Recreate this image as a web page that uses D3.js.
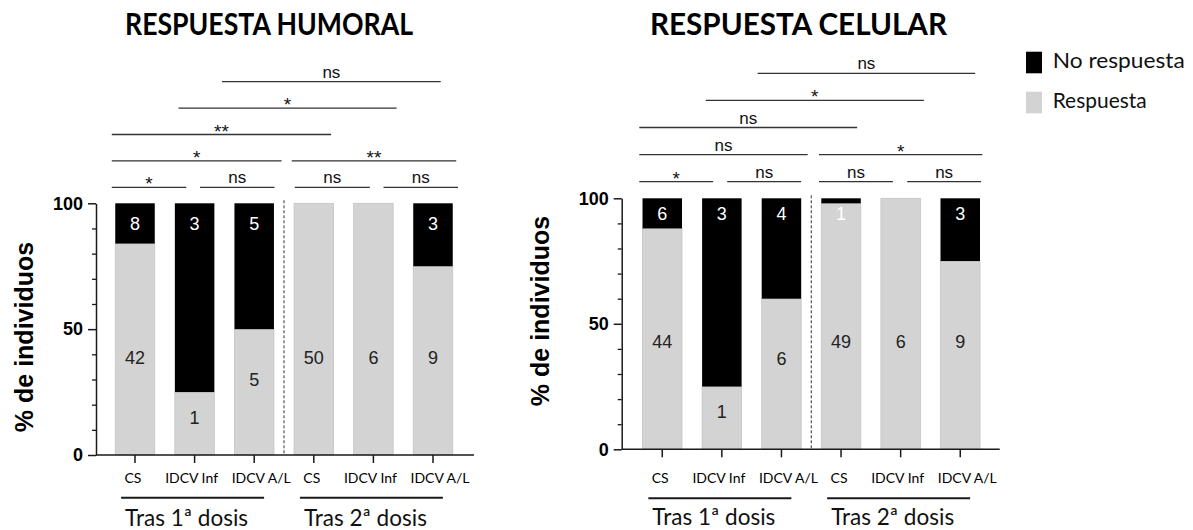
<!DOCTYPE html>
<html>
<head>
<meta charset="utf-8">
<script src="https://cdn.jsdelivr.net/npm/d3@7"></script>
<style>
  html, body { margin: 0; padding: 0; background: #fff; }
  svg { display: block; }
</style>
</head>
<body>
<svg id="chart" width="1193" height="530"></svg>
<script>
// ---- data ----
const categories = ["CS", "IDCV Inf", "IDCV A/L", "CS", "IDCV Inf", "IDCV A/L"];
const doseGroups = ["Tras 1ª dosis", "Tras 2ª dosis"];
const seriesNames = ["No respuesta", "Respuesta"];

// counts of individuals per group
const humoralRespuesta   = [42, 1, 5, 50, 6, 9];
const humoralNoRespuesta = [8, 3, 5, 0, 0, 3];
const celularRespuesta   = [44, 1, 6, 49, 6, 9];
const celularNoRespuesta = [6, 3, 4, 1, 0, 3];

const yTicks = [0, 50, 100];
const yMinorTicks = [10, 20, 30, 40, 60, 70, 80, 90];

// pairwise comparisons: [group a, group b, significance, bracket level]
const humoralComparisons = [
  [0, 1, "*", 0], [1, 2, "ns", 0], [3, 4, "ns", 0], [4, 5, "ns", 0],
  [0, 2, "*", 1], [3, 5, "**", 1],
  [0, 3, "**", 2],
  [1, 4, "*", 3],
  [2, 5, "ns", 4]
];
const celularComparisons = [
  [0, 1, "*", 0], [1, 2, "ns", 0], [3, 4, "ns", 0], [4, 5, "ns", 0],
  [0, 2, "ns", 1], [3, 5, "*", 1],
  [0, 3, "ns", 2],
  [1, 4, "*", 3],
  [2, 5, "ns", 4]
];

// ---- layout ----
const ARIAL = "'Liberation Sans', Arial, sans-serif";
const HUMANIST = "Lato, 'Open Sans', sans-serif";
const GREY = "#d3d3d3";
const INK = "#1a1a1a";

// horizontal extent of each comparison line, in category-index units
const humoralSpans = [
  [-0.39, 0.86], [1.09, 2.34], [2.68, 3.94], [4.17, 5.42],
  [-0.39, 2.46], [2.63, 5.39],
  [-0.39, 3.29],
  [0.73, 4.39],
  [1.46, 5.13]
];
const celularSpans = [
  [-0.385, 0.854], [1.09, 2.33], [2.63, 3.87], [4.11, 5.35],
  [-0.385, 2.44], [2.63, 5.37],
  [-0.385, 3.27],
  [0.73, 4.39],
  [1.6, 5.25]
];

// horizontal nudge of the category captions within each dose group
const captionNudge = [-2, -3, 7];

const panels = [
  {
    title: "RESPUESTA HUMORAL", titleX: 125, titleW: 288, titleY: 35,
    resp: humoralRespuesta, noResp: humoralNoRespuesta,
    comps: humoralComparisons, spans: humoralSpans,
    axisX: 96, y0: 455, y100: 203.3, xLen: 378, inset: 19.25,
    levelBase: 16, levelStep: 26.4,
    greyLabelPct: 38.5, blackLabelDy: 20,
    yLabelX: 24, yLabelY: 337,
    groupLineY: 497.7, groupTextY: 526
  },
  {
    title: "RESPUESTA CELULAR", titleX: 650, titleW: 297, titleY: 35,
    resp: celularRespuesta, noResp: celularNoRespuesta,
    comps: celularComparisons, spans: celularSpans,
    axisX: 621.7, y0: 449.3, y100: 198.3, xLen: 378, inset: 20.8,
    levelBase: 16.6, levelStep: 27.1,
    greyLabelPct: 42.9, blackLabelDy: 15.5,
    yLabelX: 540, yLabelY: 311,
    groupLineY: 498.3, groupTextY: 524.5
  }
];

const svg = d3.select("#chart");

function drawPanel(p) {
  const g = svg.append("g");

  const y = d3.scaleLinear().domain([0, 100]).range([p.y0, p.y100]);
  const x = d3.scaleBand()
    .domain(d3.range(categories.length))
    .range([p.axisX + p.inset, p.axisX + p.inset + 337.5])
    .paddingInner(0.337)
    .paddingOuter(0);
  const bw = x.bandwidth();
  const cx = i => x(i) + bw / 2;
  const u = d3.scaleLinear().domain([0, categories.length - 1]).range([cx(0), cx(categories.length - 1)]);

  const rows = categories.map((c, i) => {
    const total = p.resp[i] + p.noResp[i];
    return { i, c, resp: p.resp[i], no: p.noResp[i], pct: p.resp[i] / total * 100 };
  });

  // title
  g.append("text")
    .attr("x", p.titleX).attr("y", p.titleY)
    .attr("textLength", p.titleW).attr("lengthAdjust", "spacingAndGlyphs")
    .style("font-family", HUMANIST).style("font-weight", 700).style("font-size", "30px")
    .style("fill", "#000")
    .text(p.title);

  // stacked bars: Respuesta (grey) at the bottom, No respuesta (black) on top
  g.selectAll("rect.resp").data(rows).enter().append("rect")
    .attr("class", "resp")
    .attr("x", d => x(d.i)).attr("width", bw)
    .attr("y", d => y(d.pct)).attr("height", d => y(0) - y(d.pct))
    .attr("fill", GREY).attr("stroke", "#c4c4c4").attr("stroke-width", 0.8);

  g.selectAll("rect.noresp").data(rows.filter(d => d.no > 0)).enter().append("rect")
    .attr("class", "noresp")
    .attr("x", d => x(d.i)).attr("width", bw)
    .attr("y", y(100)).attr("height", d => y(d.pct) - y(100))
    .attr("fill", "#000");

  // count labels
  g.selectAll("text.respLab").data(rows).enter().append("text")
    .attr("x", d => cx(d.i))
    .attr("y", d => y(Math.min(p.greyLabelPct, d.pct * 0.6)))
    .attr("dy", "0.35em").attr("text-anchor", "middle")
    .style("font-family", ARIAL).style("font-size", "18px").style("fill", "#222")
    .text(d => d.resp);

  g.selectAll("text.noLab").data(rows.filter(d => d.no > 0)).enter().append("text")
    .attr("x", d => cx(d.i))
    .attr("y", y(100) + p.blackLabelDy)
    .attr("dy", "0.35em").attr("text-anchor", "middle")
    .style("font-family", ARIAL).style("font-size", "18px").style("fill", "#fff")
    .text(d => d.no);

  // dashed separator between the two doses
  const sepX = (cx(2) + cx(3)) / 2;
  g.append("line")
    .attr("x1", sepX).attr("x2", sepX)
    .attr("y1", y(100) - 3).attr("y2", y(0))
    .attr("stroke", "#333").attr("stroke-width", 1).attr("stroke-dasharray", "3,2");

  // y axis
  const yAxis = g.append("g").attr("transform", `translate(${p.axisX},0)`)
    .call(d3.axisLeft(y).tickValues(yTicks).tickSize(8).tickSizeOuter(0).tickPadding(5));
  yAxis.select(".domain").attr("stroke", INK).attr("stroke-width", 1.5);
  yAxis.selectAll(".tick line").attr("stroke", INK).attr("stroke-width", 1.5);
  yAxis.selectAll(".tick text")
    .style("font-family", ARIAL).style("font-weight", 700).style("font-size", "18px").style("fill", "#000");

  const yMinor = g.append("g").attr("transform", `translate(${p.axisX},0)`)
    .call(d3.axisLeft(y).tickValues(yMinorTicks).tickSize(4).tickFormat(""));
  yMinor.select(".domain").remove();
  yMinor.selectAll(".tick line").attr("stroke", INK).attr("stroke-width", 1.3);

  g.append("text")
    .attr("transform", `translate(${p.yLabelX},${p.yLabelY}) rotate(-90)`)
    .attr("text-anchor", "middle").attr("dy", "0.35em")
    .style("font-family", ARIAL).style("font-weight", 700).style("font-size", "25px").style("fill", "#000")
    .text("% de individuos");

  // x axis
  g.append("line")
    .attr("x1", p.axisX).attr("x2", p.axisX + p.xLen)
    .attr("y1", p.y0).attr("y2", p.y0)
    .attr("stroke", INK).attr("stroke-width", 1.5);
  const xAxis = g.append("g").attr("transform", `translate(0,${p.y0})`)
    .call(d3.axisBottom(x).tickSize(8).tickSizeOuter(0).tickFormat(""));
  xAxis.select(".domain").remove();
  xAxis.selectAll(".tick line").attr("stroke", INK).attr("stroke-width", 1.5);

  g.selectAll("text.cat").data(rows).enter().append("text")
    .attr("x", d => cx(d.i) + captionNudge[d.i % 3]).attr("y", 483.3)
    .attr("text-anchor", "middle")
    .style("font-family", HUMANIST).style("font-size", "14px").style("fill", "#000")
    .text(d => d.c);

  // dose group underline and caption
  doseGroups.forEach((name, k) => {
    const mid = cx(k * 3 + 1) - 2;
    g.append("line")
      .attr("x1", mid - 71.5).attr("x2", mid + 71.5)
      .attr("y1", p.groupLineY).attr("y2", p.groupLineY)
      .attr("stroke", INK).attr("stroke-width", 2);
    g.append("text")
      .attr("x", mid - 6).attr("y", p.groupTextY)
      .attr("text-anchor", "middle")
      .attr("textLength", 123).attr("lengthAdjust", "spacingAndGlyphs")
      .style("font-family", HUMANIST).style("font-size", "23px").style("fill", "#111")
      .text(name);
  });

  // significance brackets
  const comps = p.comps.map((c, k) => ({
    a: c[0], b: c[1], label: c[2], level: c[3], span: p.spans[k]
  }));
  const lineY = d => y(100) - (p.levelBase + d.level * p.levelStep);
  g.selectAll("line.sig").data(comps).enter().append("line")
    .attr("class", "sig")
    .attr("x1", d => u(d.span[0])).attr("x2", d => u(d.span[1]))
    .attr("y1", lineY).attr("y2", lineY)
    .attr("stroke", "#333").attr("stroke-width", 1.3);
  g.selectAll("text.sig").data(comps).enter().append("text")
    .attr("class", "sig")
    .attr("x", d => (u(d.span[0]) + u(d.span[1])) / 2)
    .attr("y", d => d.label === "ns" ? lineY(d) - 4 : lineY(d) + 3)
    .attr("text-anchor", "middle")
    .style("font-family", ARIAL)
    .style("font-size", d => d.label === "ns" ? "17px" : "19px")
    .style("fill", "#111")
    .text(d => d.label);
}

panels.forEach(drawPanel);

// legend
const legend = svg.append("g").attr("transform", "translate(1026,51.7)");
const legendColors = ["#000", GREY];
const legendWidths = [132, 94];
seriesNames.forEach((name, k) => {
  legend.append("rect")
    .attr("x", 0).attr("y", k * 40).attr("width", 16).attr("height", 21.6)
    .attr("fill", legendColors[k]);
  legend.append("text")
    .attr("x", 26.7).attr("y", k * 40 + 16.5)
    .attr("textLength", legendWidths[k]).attr("lengthAdjust", "spacingAndGlyphs")
    .style("font-family", HUMANIST).style("font-size", "22px").style("fill", "#111")
    .text(name);
});
</script>
</body>
</html>
